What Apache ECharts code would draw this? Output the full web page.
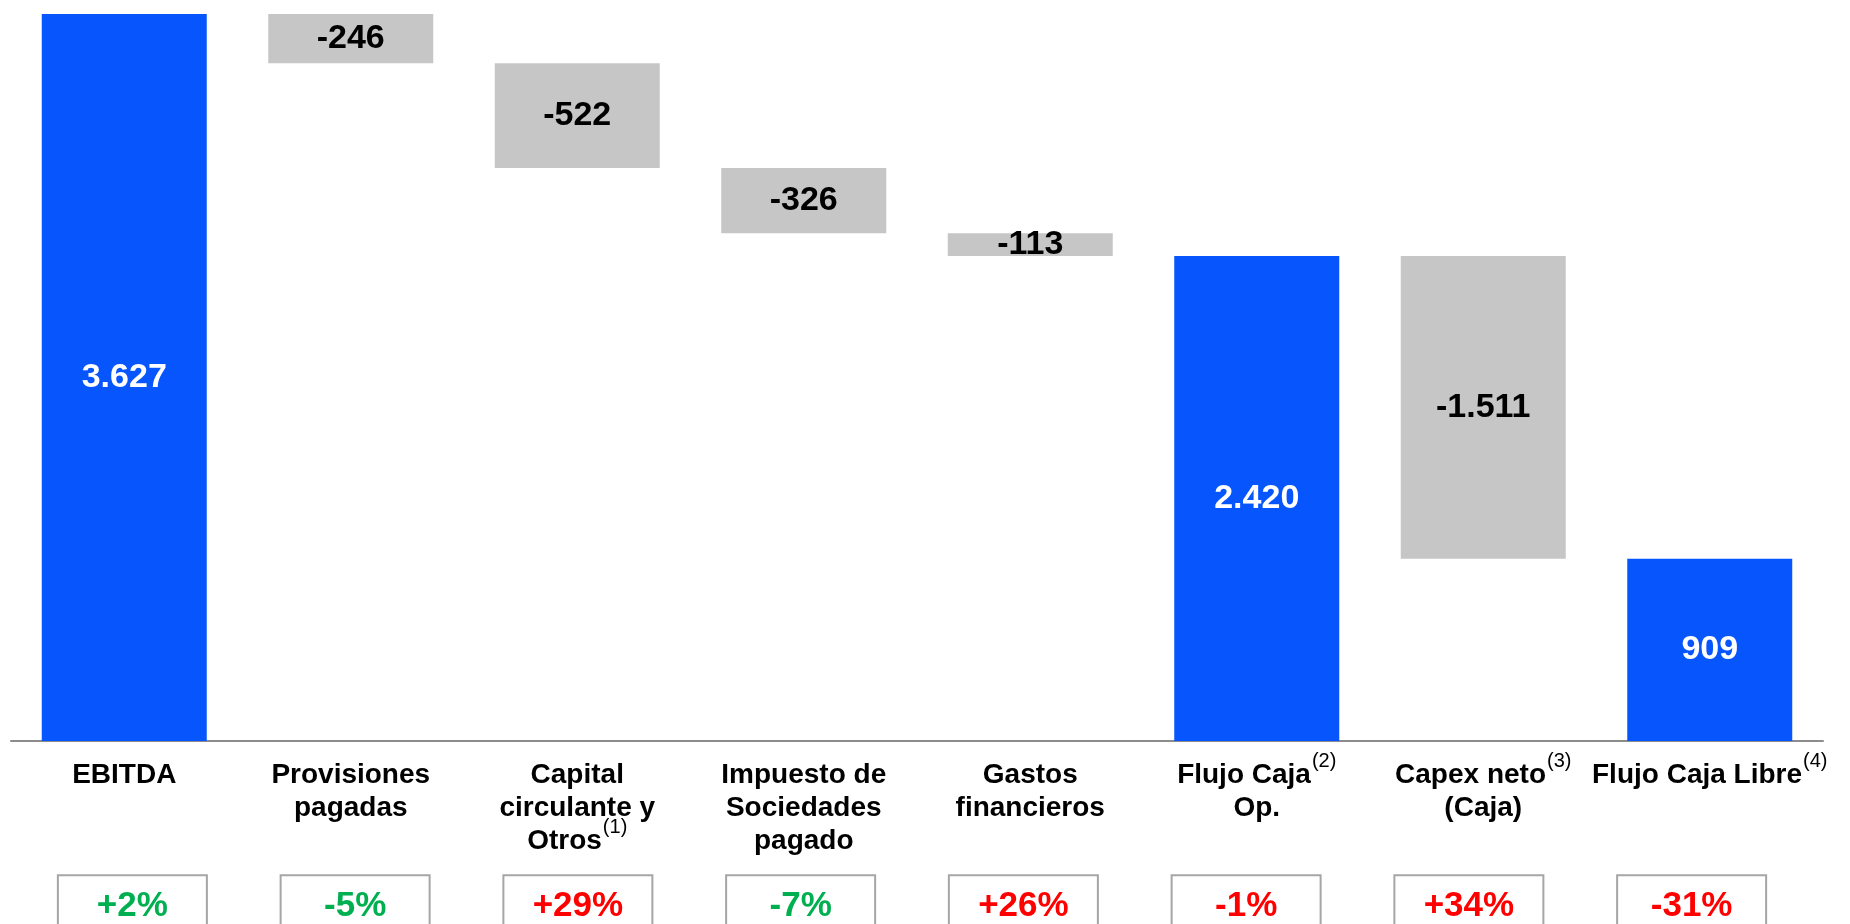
<!DOCTYPE html>
<html>
<head>
<meta charset="utf-8">
<script src="https://cdn.jsdelivr.net/npm/echarts@6/dist/echarts.min.js"></script>
<style>
  html, body { margin: 0; padding: 0; background: #fff; }
  #chart { width: 1850px; height: 924px; }
</style>
</head>
<body>
<div id="chart"></div>
<script>
// categories and values of the cash flow bridge
var categories = [
  'EBITDA',
  'Provisiones\npagadas',
  'Capital\ncirculante y\nOtros{sup|(1)}',
  'Impuesto de\nSociedades\npagado',
  'Gastos\nfinancieros',
  'Flujo Caja{sup|(2)}\nOp.',
  'Capex neto{sup|(3)}\n(Caja)',
  'Flujo Caja Libre{sup|(4)}'
];
var values = [3627, -246, -522, -326, -113, 2420, -1511, 909];
var isTotal = [true, false, false, false, false, true, false, true];
var changes = ['+2%', '-5%', '+29%', '-7%', '+26%', '-1%', '+34%', '-31%'];
var changeGood = [true, true, false, true, false, false, false, false];

var BLUE = '#0655fd';
var GREY = '#c6c6c6';
var GREEN = '#00b050';
var RED = '#ff0000';
var FONT = 'Liberation Sans, Arial, sans-serif';

function fmt(v) {
  var s = Math.abs(v).toString().replace(/\B(?=(\d{3})+(?!\d))/g, '.');
  return (v < 0 ? '-' : '') + s;
}

// waterfall: invisible base + visible part
var baseData = [];
var barData = [];
var running = 0;
for (var i = 0; i < values.length; i++) {
  var v = values[i];
  if (isTotal[i]) {
    baseData.push(0);
    running = v;
    barData.push({
      value: v,
      itemStyle: { color: BLUE },
      label: { color: '#fff' }
    });
  } else {
    running = running + v;
    baseData.push(running);
    barData.push({
      value: -v,
      itemStyle: { color: GREY },
      label: { color: '#000' }
    });
  }
}

var changeData = changes.map(function (c, i) {
  return { value: c, textStyle: { color: changeGood[i] ? GREEN : RED } };
});

var chart = echarts.init(document.getElementById('chart'));
var option = {
  animation: false,
  grid: [
    { left: 11, right: 27, top: 14, bottom: 183 },
    { left: 21, right: 47, top: 870, height: 1 }
  ],
  xAxis: [
    {
      type: 'category',
      gridIndex: 0,
      data: categories,
      axisLine: { lineStyle: { color: '#8c8c8c', width: 2 } },
      axisTick: { show: false },
      axisLabel: {
        interval: 0,
        margin: 18,
        color: '#000',
        fontFamily: FONT,
        fontWeight: 'bold',
        fontSize: 28,
        lineHeight: 33,
        rich: {
          sup: {
            fontFamily: FONT,
            fontSize: 20,
            fontWeight: 'normal',
            color: '#000',
            verticalAlign: 'top',
            lineHeight: 20,
            padding: [-8, 0, 0, 1]
          }
        }
      }
    },
    {
      type: 'category',
      gridIndex: 1,
      data: changeData,
      axisLine: { show: false },
      axisTick: { show: false },
      axisLabel: {
        interval: 0,
        margin: 5,
        fontFamily: FONT,
        fontWeight: 'bold',
        fontSize: 35,
        lineHeight: 36,
        width: 149,
        align: 'center',
        borderColor: '#a6a6a6',
        borderWidth: 2,
        padding: [13, 0, 13, 0]
      }
    }
  ],
  yAxis: [
    { type: 'value', gridIndex: 0, min: 0, max: 3627, show: false },
    { type: 'value', gridIndex: 1, show: false }
  ],
  series: [
    {
      type: 'bar',
      stack: 'w',
      barWidth: 165,
      itemStyle: { color: 'transparent' },
      data: baseData,
      silent: true
    },
    {
      type: 'bar',
      stack: 'w',
      barWidth: 165,
      data: barData,
      label: {
        show: true,
        position: 'inside',
        fontFamily: FONT,
        fontWeight: 'bold',
        fontSize: 34,
        formatter: function (p) { return fmt(values[p.dataIndex]); }
      }
    }
  ]
};
chart.setOption(option);
</script>
</body>
</html>
